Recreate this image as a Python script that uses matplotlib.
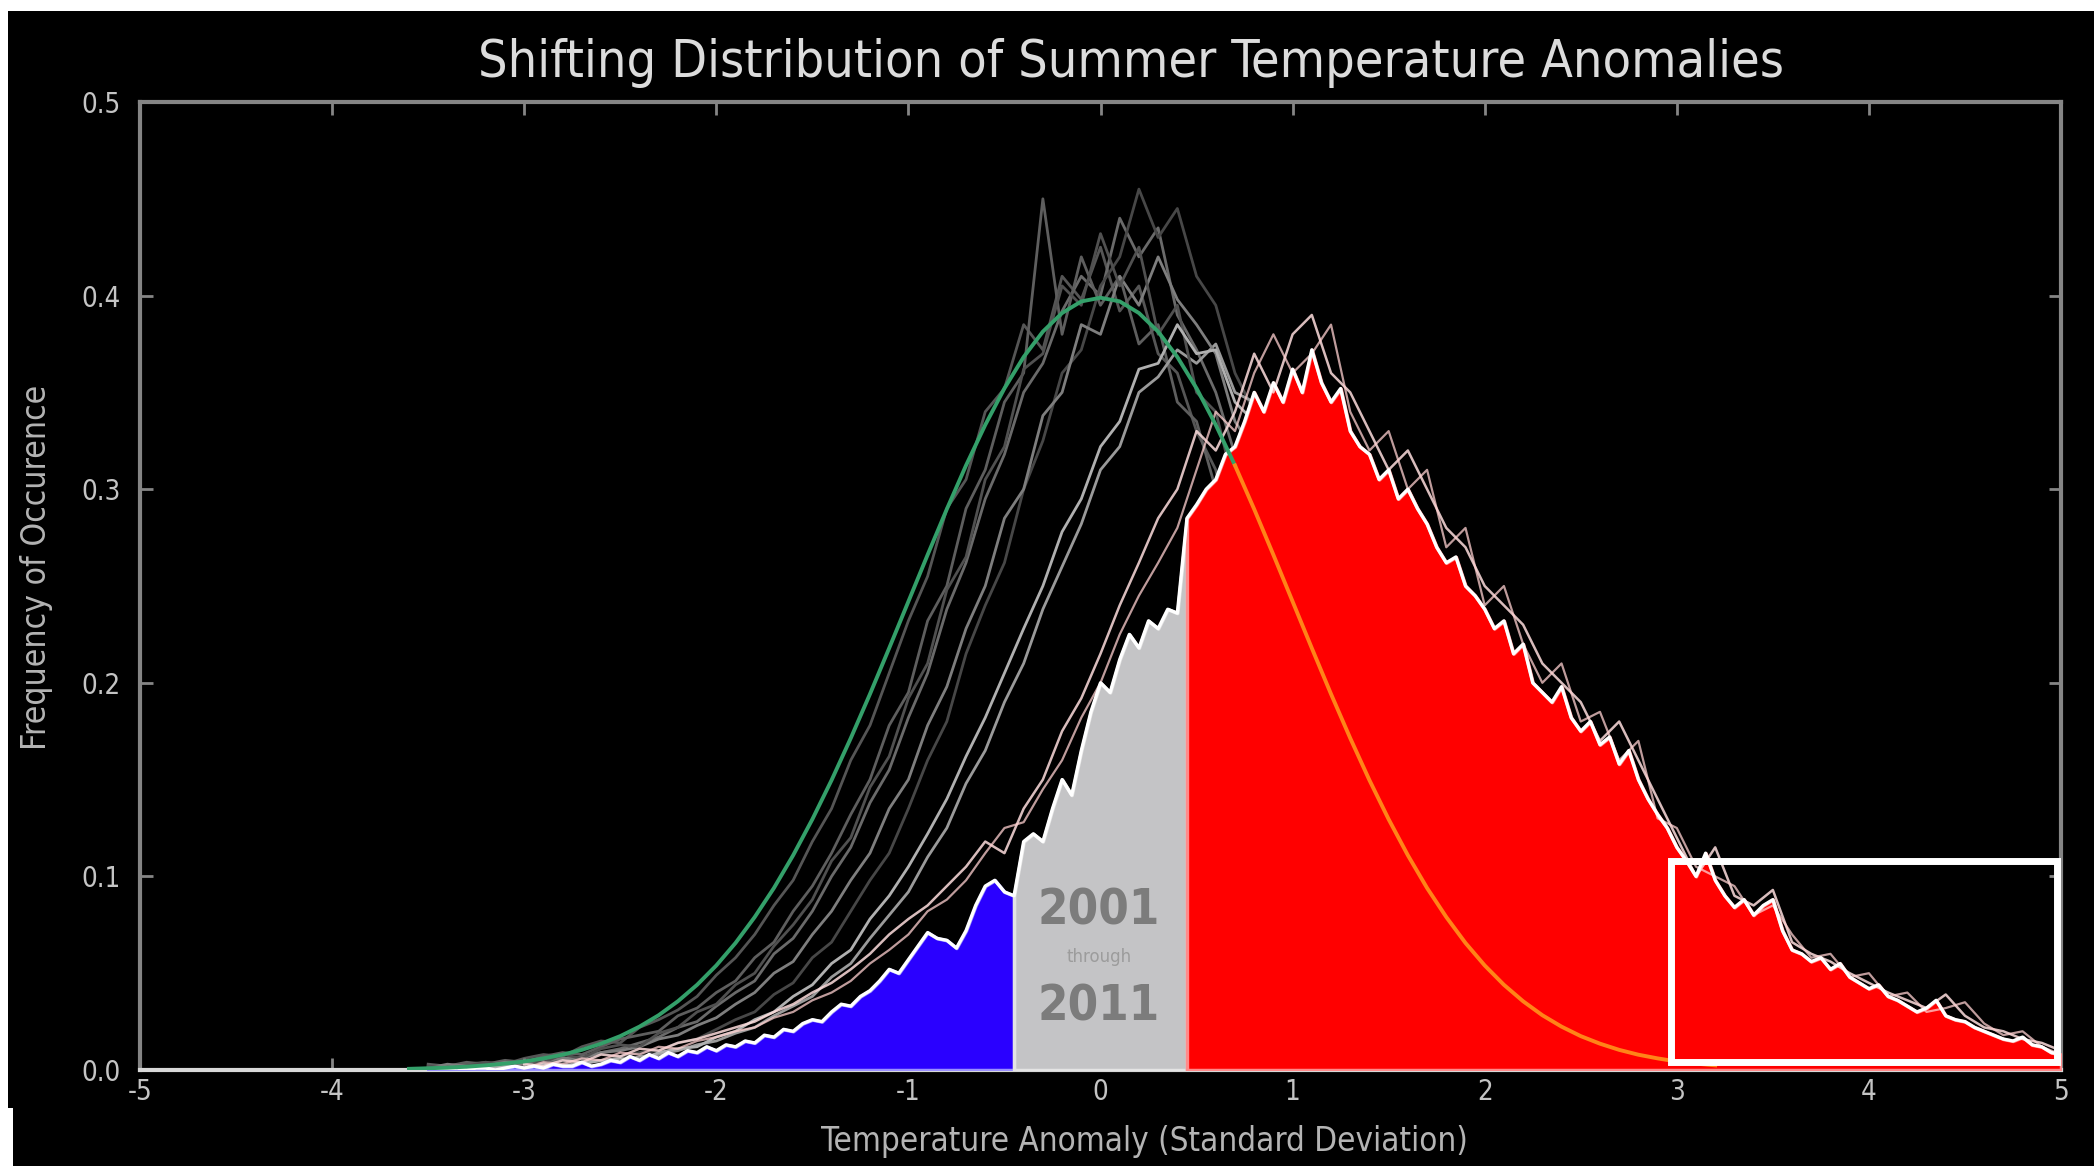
import numpy as np
import matplotlib
matplotlib.use("Agg")
import matplotlib.pyplot as plt
from matplotlib.patches import Rectangle
from matplotlib import font_manager as fm

# ---------------- font selection (condensed look) ----------------
def _find(**kw):
    try:
        return fm.findfont(fm.FontProperties(**kw), fallback_to_default=False)
    except Exception:
        return None

_narrow = _find(family='Liberation Sans Narrow')
_cond = _find(family='DejaVu Sans', stretch='condensed')
if _narrow and 'Narrow' in _narrow:
    FONT = ['Liberation Sans Narrow', 'DejaVu Sans']
    STRETCH = 'normal'
    SCALE = 1.25
elif _cond and 'Condensed' in _cond:
    FONT = ['DejaVu Sans']
    STRETCH = 'condensed'
    SCALE = 1.10
else:
    FONT = ['DejaVu Sans']
    STRETCH = 'normal'
    SCALE = 1.0
plt.rcParams['font.family'] = FONT
plt.rcParams['font.stretch'] = STRETCH

# ---------------- text ----------------
title = "Shifting Distribution of Summer Temperature Anomalies"
xlabel = "Temperature Anomaly (Standard Deviation)"
ylabel = "Frequency of Occurence"
xticks = [-5, -4, -3, -2, -1, 0, 1, 2, 3, 4, 5]
xtick_labels = ["-5", "-4", "-3", "-2", "-1", "0", "1", "2", "3", "4", "5"]
yticks = [0.0, 0.1, 0.2, 0.3, 0.4, 0.5]
ytick_labels = ["0.0", "0.1", "0.2", "0.3", "0.4", "0.5"]
period_labels = ["2001", "through", "2011"]

# ---------------- data ----------------
# 1951-1980 reference (normal) curve, x = -3.6 .. 3.2 step 0.1
normal_x_range = (-3.6, 3.2)
normal_vals = [
    0.0006, 0.0009, 0.0012, 0.0017, 0.0024, 0.0033, 0.0044, 0.0060, 0.0079, 0.0104,
    0.0136, 0.0175, 0.0224, 0.0283, 0.0355, 0.0440, 0.0540, 0.0656, 0.0790, 0.0940,
    0.1109, 0.1295, 0.1497, 0.1714, 0.1942, 0.2179, 0.2420, 0.2661, 0.2897, 0.3123,
    0.3332, 0.3521, 0.3683, 0.3814, 0.3910, 0.3970, 0.3989, 0.3970, 0.3910, 0.3814,
    0.3683, 0.3521, 0.3332, 0.3123, 0.2897, 0.2661, 0.2420, 0.2179, 0.1942, 0.1714,
    0.1497, 0.1295, 0.1109, 0.0940, 0.0790, 0.0656, 0.0540, 0.0440, 0.0355, 0.0283,
    0.0224, 0.0175, 0.0136, 0.0104, 0.0079, 0.0060, 0.0044, 0.0033, 0.0024,
]
normal_color_switch = 0.7

# 2001-2011 distribution (filled), x = -3.5 .. 5.0 step 0.05
main_x_range = (-3.5, 5.0)
main_vals = [
    0.000, 0.000, 0.000, 0.001, 0.000, 0.001, 0.001, 0.000, 0.001, 0.002,
    0.001, 0.002, 0.001, 0.003, 0.002, 0.002, 0.004, 0.002, 0.003, 0.005,
    0.004, 0.007, 0.005, 0.008, 0.006, 0.009, 0.007, 0.010, 0.009, 0.012,
    0.010, 0.013, 0.012, 0.015, 0.014, 0.018, 0.017, 0.021, 0.020, 0.024,
    0.026, 0.025, 0.030, 0.034, 0.033, 0.038, 0.041, 0.046, 0.052, 0.050,
    0.057, 0.064, 0.071, 0.068, 0.067, 0.063, 0.072, 0.085, 0.095, 0.098,
    0.092, 0.090, 0.118, 0.122, 0.118, 0.135, 0.150, 0.142, 0.165, 0.185,
    0.200, 0.195, 0.212, 0.225, 0.218, 0.232, 0.228, 0.238, 0.236, 0.285,
    0.292, 0.300, 0.305, 0.318, 0.322, 0.335, 0.350, 0.340, 0.355, 0.345,
    0.362, 0.350, 0.372, 0.355, 0.345, 0.352, 0.330, 0.322, 0.318, 0.305,
    0.310, 0.295, 0.300, 0.290, 0.282, 0.270, 0.262, 0.265, 0.250, 0.245,
    0.238, 0.228, 0.232, 0.215, 0.220, 0.200, 0.195, 0.190, 0.198, 0.182,
    0.175, 0.180, 0.168, 0.172, 0.158, 0.165, 0.150, 0.140, 0.132, 0.125,
    0.115, 0.108, 0.100, 0.112, 0.098, 0.090, 0.084, 0.088, 0.080, 0.085,
    0.088, 0.072, 0.062, 0.060, 0.056, 0.058, 0.052, 0.055, 0.048, 0.045,
    0.042, 0.044, 0.038, 0.036, 0.033, 0.030, 0.032, 0.036, 0.028, 0.026,
    0.025, 0.022, 0.020, 0.018, 0.016, 0.015, 0.017, 0.013, 0.012, 0.009,
    0.008,
]
cold_limit, hot_limit = -0.45, 0.45

# individual recent years, x = -3.0 .. 5.0 step 0.1
year_x_range = (-3.0, 5.0)
year_a = [
    0.003, 0.002, 0.005, 0.004, 0.008, 0.007, 0.011, 0.010, 0.014, 0.016,
    0.019, 0.022, 0.025, 0.030, 0.034, 0.040, 0.045, 0.052, 0.060, 0.070,
    0.078, 0.085, 0.095, 0.105, 0.118, 0.112, 0.135, 0.150, 0.175, 0.192,
    0.215, 0.240, 0.262, 0.285,
    0.30, 0.33, 0.32, 0.34, 0.37, 0.35, 0.38, 0.39, 0.36, 0.35,
    0.33, 0.31, 0.32, 0.30, 0.28, 0.27, 0.25, 0.24, 0.23, 0.21,
    0.20, 0.19, 0.17, 0.18, 0.16, 0.14, 0.12, 0.10, 0.115, 0.09,
    0.085, 0.093, 0.066, 0.060, 0.056, 0.050, 0.045, 0.040, 0.036, 0.032,
    0.039, 0.028, 0.022, 0.020, 0.016, 0.014, 0.010,
]
year_b = [
    0.001, 0.004, 0.003, 0.006, 0.005, 0.009, 0.008, 0.012, 0.011, 0.015,
    0.017, 0.020, 0.022, 0.027, 0.030, 0.036, 0.040, 0.046, 0.055, 0.062,
    0.070, 0.082, 0.088, 0.098, 0.112, 0.125, 0.128, 0.145, 0.160, 0.182,
    0.200, 0.225, 0.245, 0.262,
    0.28, 0.31, 0.34, 0.33, 0.36, 0.38, 0.36, 0.37, 0.385, 0.34,
    0.32, 0.33, 0.30, 0.31, 0.27, 0.28, 0.24, 0.25, 0.22, 0.20,
    0.21, 0.18, 0.185, 0.16, 0.17, 0.13, 0.125, 0.105, 0.10, 0.095,
    0.08, 0.085, 0.07, 0.058, 0.06, 0.048, 0.05, 0.038, 0.04, 0.03,
    0.032, 0.035, 0.024, 0.018, 0.02, 0.012, 0.008,
]

# earlier decades (gray), x = -3.5 .. 1.0 step 0.1
decade_x_range = (-3.5, 1.0)
decade_1 = [
    0.002, 0.001, 0.003, 0.004, 0.003, 0.006, 0.008, 0.007, 0.012, 0.015,
    0.014, 0.022, 0.026, 0.031, 0.038, 0.049, 0.058, 0.070, 0.085, 0.098,
    0.118, 0.135, 0.160, 0.178, 0.205, 0.232, 0.255, 0.290, 0.305, 0.340,
    0.352, 0.385, 0.372, 0.410, 0.398, 0.425, 0.392, 0.405, 0.370, 0.360,
    0.330, 0.310, 0.270, 0.255, 0.215, 0.200,
]
decade_2 = [
    0.001, 0.002, 0.001, 0.003, 0.002, 0.004, 0.005, 0.004, 0.007, 0.009,
    0.011, 0.014, 0.017, 0.022, 0.025, 0.033, 0.040, 0.046, 0.060, 0.068,
    0.082, 0.100, 0.115, 0.138, 0.155, 0.182, 0.205, 0.238, 0.262, 0.295,
    0.318, 0.350, 0.365, 0.392, 0.410, 0.400, 0.440, 0.420, 0.435, 0.390,
    0.372, 0.350, 0.318, 0.300, 0.262, 0.240,
]
decade_3 = [
    0.000, 0.001, 0.001, 0.002, 0.001, 0.003, 0.002, 0.004, 0.005, 0.004,
    0.007, 0.009, 0.010, 0.014, 0.016, 0.021, 0.026, 0.030, 0.039, 0.045,
    0.058, 0.066, 0.082, 0.098, 0.112, 0.135, 0.160, 0.180, 0.215, 0.240,
    0.262, 0.300, 0.325, 0.360, 0.372, 0.405, 0.420, 0.455, 0.430, 0.445,
    0.410, 0.395, 0.360, 0.340, 0.300, 0.280,
]
decade_4 = [
    0.003, 0.002, 0.004, 0.003, 0.005, 0.004, 0.007, 0.009, 0.008, 0.012,
    0.016, 0.018, 0.020, 0.028, 0.032, 0.040, 0.046, 0.058, 0.066, 0.082,
    0.095, 0.112, 0.132, 0.150, 0.178, 0.195, 0.232, 0.250, 0.290, 0.310,
    0.345, 0.360, 0.450, 0.380, 0.420, 0.395, 0.410, 0.375, 0.385, 0.345,
    0.335, 0.300, 0.285, 0.250, 0.230, 0.195,
]
decade_5 = [
    0.000, 0.000, 0.001, 0.000, 0.002, 0.001, 0.003, 0.002, 0.004, 0.005,
    0.004, 0.007, 0.008, 0.010, 0.013, 0.015, 0.019, 0.022, 0.028, 0.033,
    0.038, 0.048, 0.055, 0.068, 0.080, 0.092, 0.110, 0.125, 0.148, 0.165,
    0.190, 0.210, 0.238, 0.260, 0.282, 0.310, 0.322, 0.350, 0.358, 0.372,
    0.365, 0.375, 0.350, 0.345, 0.320, 0.310,
]
decade_6 = [
    0.001, 0.003, 0.002, 0.002, 0.004, 0.003, 0.005, 0.006, 0.006, 0.009,
    0.010, 0.012, 0.016, 0.018, 0.023, 0.027, 0.034, 0.040, 0.050, 0.056,
    0.070, 0.082, 0.098, 0.112, 0.135, 0.150, 0.178, 0.198, 0.228, 0.250,
    0.285, 0.300, 0.338, 0.350, 0.385, 0.380, 0.410, 0.395, 0.420, 0.398,
    0.385, 0.370, 0.335, 0.320, 0.280, 0.265,
]
decade_7 = [
    0.002, 0.001, 0.002, 0.004, 0.002, 0.005, 0.004, 0.008, 0.006, 0.011,
    0.013, 0.012, 0.019, 0.022, 0.030, 0.034, 0.044, 0.050, 0.064, 0.075,
    0.088, 0.108, 0.120, 0.146, 0.162, 0.192, 0.210, 0.248, 0.265, 0.305,
    0.322, 0.362, 0.370, 0.405, 0.395, 0.432, 0.405, 0.425, 0.380, 0.395,
    0.350, 0.340, 0.300, 0.290, 0.245, 0.230,
]
decade_8 = [
    0.000, 0.001, 0.000, 0.001, 0.002, 0.001, 0.003, 0.002, 0.003, 0.005,
    0.006, 0.005, 0.009, 0.011, 0.012, 0.017, 0.020, 0.026, 0.030, 0.038,
    0.044, 0.055, 0.062, 0.078, 0.090, 0.105, 0.122, 0.140, 0.162, 0.182,
    0.205, 0.228, 0.250, 0.278, 0.295, 0.322, 0.335, 0.362, 0.365, 0.385,
    0.370, 0.372, 0.345, 0.335, 0.305, 0.290,
]
decades = [decade_1, decade_2, decade_3, decade_4, decade_5, decade_6, decade_7, decade_8]
decade_colors = ['#555555', '#6a6a6a', '#474747', '#5e5e5e', '#9a9a9a',
                 '#7e7e7e', '#505050', '#b0b0b0']

# highlighted tail box (x0, x1, y0, y1)
tail_box = (2.97, 4.98, 0.004, 0.108)

# ---------------- figure ----------------
W, H = 2094, 1166
fig = plt.figure(figsize=(W / 100, H / 100), dpi=100, facecolor='white')
fig.patches.append(Rectangle((8 / W, 0), 1, 1 - 11 / H, transform=fig.transFigure,
                             facecolor='black', edgecolor='none', zorder=-10))
fig.patches.append(Rectangle((0, 0), 13 / W, 58 / H, transform=fig.transFigure,
                             facecolor='white', edgecolor='none', zorder=-9))

ax = fig.add_axes([140 / W, 1 - 1070 / H, (2061 - 140) / W, (1070 - 102) / H])
ax.set_facecolor('black')

def grid(rng, n):
    return np.linspace(rng[0], rng[1], n)

# gray decade curves
xd = grid(decade_x_range, len(decade_1))
for vals, c in zip(decades, decade_colors):
    ax.plot(xd, vals, color=c, lw=2.0, zorder=1)

# filled 2001-2011 distribution
xm = grid(main_x_range, len(main_vals))
ym = np.array(main_vals)
eps = 1e-6
ax.fill_between(xm, 0, ym, where=xm <= cold_limit + eps, facecolor='#2a00ff',
                edgecolor='#9a90ff', lw=2.5, zorder=3)
ax.fill_between(xm, 0, ym, where=(xm >= cold_limit - eps) & (xm <= hot_limit + eps),
                facecolor='#c4c4c6', edgecolor='#e4e4e4', lw=2.5, zorder=3)
ax.fill_between(xm, 0, ym, where=xm >= hot_limit - eps, facecolor='#ff0000',
                edgecolor='#ff8a8a', lw=2.5, zorder=3)

# individual year lines
xy = grid(year_x_range, len(year_a))
ax.plot(xy, year_a, color='#ffdede', lw=1.8, alpha=0.85, zorder=4)
ax.plot(xy, year_b, color='#ffd0d0', lw=1.6, alpha=0.75, zorder=4)
ax.plot(xm, ym, color='white', lw=2.4, zorder=5)

# reference normal curve
xn = grid(normal_x_range, len(normal_vals))
yn = np.array(normal_vals)
g = xn <= normal_color_switch + eps
o = xn >= normal_color_switch - eps
ax.plot(xn[g], yn[g], color='#34a06a', lw=2.8, zorder=6)
ax.plot(xn[o], yn[o], color='#ff8418', lw=2.8, zorder=6)

# tail box
bx0, bx1, by0, by1 = tail_box
ax.add_patch(Rectangle((bx0, by0), bx1 - bx0, by1 - by0, fill=False,
                       edgecolor='white', lw=5, zorder=7))

# period labels
ax.text(-0.01, 0.0826, period_labels[0], ha='center', va='center', fontsize=32 * SCALE,
        fontweight='bold', color='#7c7c7c', zorder=8)
ax.text(-0.01, 0.0585, period_labels[1], ha='center', va='center', fontsize=12 * SCALE,
        color='#9c9c9c', zorder=8)
ax.text(-0.01, 0.0327, period_labels[2], ha='center', va='center', fontsize=32 * SCALE,
        fontweight='bold', color='#7c7c7c', zorder=8)

# axes styling
ax.set_xlim(-5, 5)
ax.set_ylim(0, 0.5)
ax.set_xticks(xticks, xtick_labels)
ax.set_yticks(yticks, ytick_labels)
for side in ['left', 'top', 'right']:
    ax.spines[side].set_color('#858585')
    ax.spines[side].set_linewidth(3)
ax.spines['bottom'].set_color('#d8d8d8')
ax.spines['bottom'].set_linewidth(3)
ax.tick_params(axis='both', direction='in', length=9, width=2, color='#858585',
               labelcolor='#c4c4c4', top=True, right=True)
ax.tick_params(axis='x', labelsize=18 * SCALE, pad=6)
ax.tick_params(axis='y', labelsize=18 * SCALE, pad=14)

fig.text(0.540, 0.946, title, ha='center', va='center', fontsize=34 * SCALE, color='#dcdcdc')
fig.text(0.0172, 0.513, ylabel, ha='center', va='center', rotation=90,
         fontsize=22 * SCALE, color='#b4b4b4')
fig.text(0.5465, 0.0206, xlabel, ha='center', va='center', fontsize=21.6 * SCALE,
         color='#b4b4b4')

fig.savefig('out.png', dpi=100, facecolor=fig.get_facecolor())
